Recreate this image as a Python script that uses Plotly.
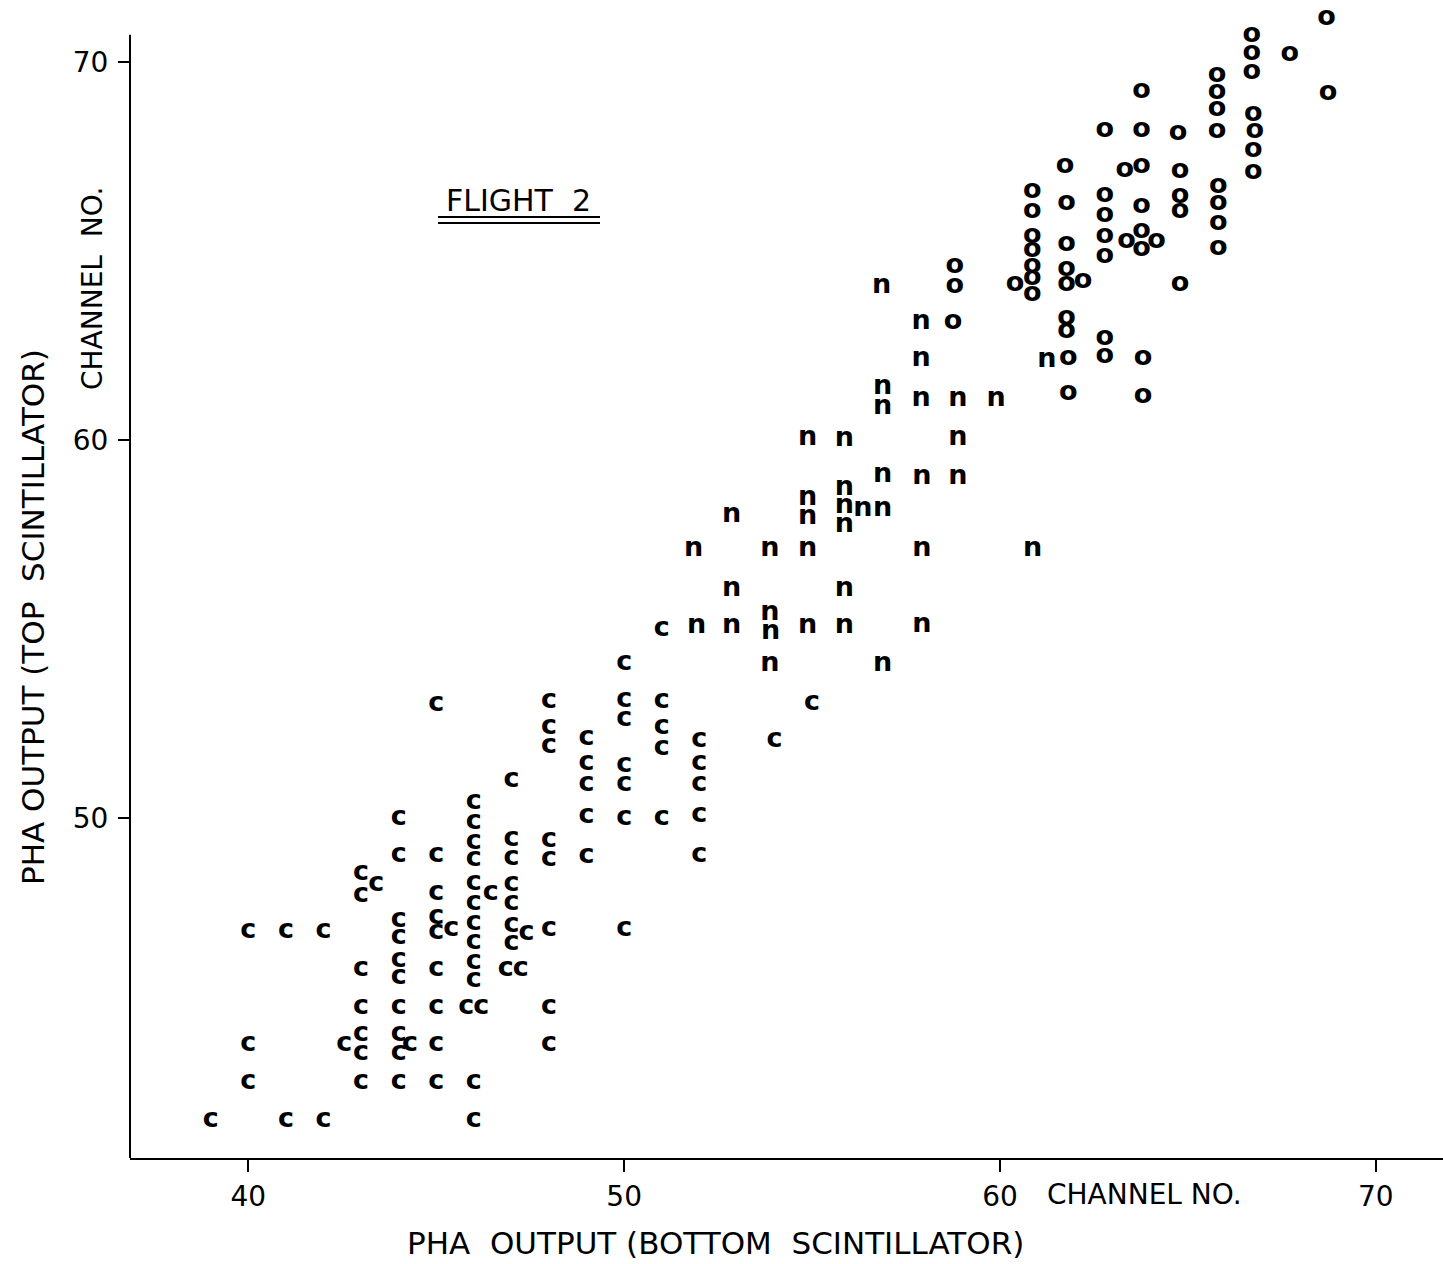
import plotly.graph_objects as go

# ---------------- data ----------------
c_x = [39, 40, 40, 40, 41, 41, 42, 42,
       43, 43, 43.4, 43, 43, 42.55, 43, 43, 43,
       44, 44, 44, 44, 44, 44, 44, 44, 44, 44.3, 44,
       45, 45, 45, 45, 45, 45.4, 45, 45, 45, 45,
       46, 46, 46, 46, 46, 46, 46, 46, 46, 46, 45.8, 46.2, 46, 46, 46.45,
       47, 47, 47, 47, 47, 47, 47, 47.4, 46.85, 47.25,
       48, 48, 48, 48, 48, 48, 48, 48,
       49, 49, 49, 49, 49,
       50, 50, 50, 50, 50, 50, 50,
       51, 51, 51, 51, 51,
       52, 52, 52, 52, 52,
       54, 55]
c_y = [42, 47, 44, 43, 47, 42, 47, 42,
       48.54, 47.96, 48.23, 46, 45, 44, 44.27, 43.77, 43,
       50, 49, 47.3, 46.85, 46.24, 45.77, 45, 44.27, 43.77, 44, 43,
       53, 49, 48, 47.38, 46.96, 47.04, 46, 45, 44, 43,
       50.42, 49.89, 49.34, 48.89, 48.28, 47.75, 47.22, 46.72, 46.19, 45.71, 45, 45, 43, 42, 48.0,
       51, 49.42, 48.94, 48.23, 47.75, 47.17, 46.69, 46.95, 46, 46,
       53.07, 52.4, 51.9, 49.4, 48.9, 47.04, 45, 44,
       52.1, 51.45, 50.9, 50.03, 48.97,
       54.1, 53.1, 52.6, 51.4, 50.9, 50, 47.04,
       55, 53.07, 52.4, 51.85, 50,
       52.06, 51.45, 50.9, 50.07, 49,
       52.06, 53.04]

n_x = [56.85, 57.9, 57.9, 61.25, 56.88, 56.88, 57.9, 58.88, 59.9,
       54.88, 55.86, 58.88, 56.88, 57.92, 58.88,
       54.88, 54.88, 55.86, 55.86, 55.86, 56.35, 56.88, 52.86,
       51.85, 53.88, 54.88, 57.92, 60.87,
       52.86, 55.86,
       51.93, 52.86, 53.88, 53.9, 54.88, 55.86, 57.92,
       53.88, 56.88]
n_y = [64.05, 63.1, 62.12, 62.1, 61.4, 60.87, 61.06, 61.06, 61.06,
       60.05, 60.0, 60.05, 59.07, 59.0, 59.0,
       58.46, 57.94, 58.73, 58.23, 57.75, 58.15, 58.15, 58.0,
       57.1, 57.1, 57.1, 57.1, 57.1,
       56.05, 56.05,
       55.06, 55.06, 55.4, 54.9, 55.06, 55.06, 55.1,
       54.05, 54.05]

o_x = [66.7, 66.7, 66.7, 67.71, 68.69, 68.73,
       65.78, 65.78, 65.78, 65.78,
       63.77, 62.79, 63.77, 64.74,
       66.74, 66.78, 66.74, 66.74,
       61.73, 63.32, 63.77, 64.79,
       60.86, 60.86, 60.86, 60.86, 60.86, 60.86, 60.86, 60.4,
       61.77, 61.77, 61.77, 61.77, 62.21, 61.77, 61.77, 61.82, 61.82,
       62.79, 62.79, 62.79, 62.79, 62.79, 62.79,
       63.77, 63.77, 63.37, 64.17, 63.77, 63.81, 63.81,
       64.79, 64.79, 64.79,
       65.81, 65.81, 65.81, 65.81,
       58.8, 58.8, 58.75]
o_y = [70.71, 70.23, 69.72, 70.19, 71.16, 69.17,
       69.65, 69.2, 68.75, 68.15,
       69.21, 68.2, 68.2, 68.11,
       68.6, 68.16, 67.67, 67.07,
       67.23, 67.14, 67.23, 67.1,
       66.57, 66.04, 65.38, 65.0, 64.6, 64.28, 63.84, 64.1,
       66.26, 65.16, 64.5, 64.1, 64.19, 63.22, 62.87, 62.16, 61.23,
       66.48, 65.95, 65.38, 64.85, 62.69, 62.2,
       66.17, 65.52, 65.25, 65.25, 65.03, 62.16, 61.16,
       66.44, 66.04, 64.1,
       66.7, 66.26, 65.73, 65.07,
       64.58, 64.05, 63.1]

x_ticks = [40, 50, 60, 70]
y_ticks = [50, 60, 70]
x_range = [36.85, 71.79]
y_range = [41.0, 71.5]       # plotted range (room for the top-most point)
y_axis_top = 70.71           # where the drawn y-axis line stops

# ---------------- layout geometry ----------------
W, H = 1443, 1264
L, R, T, B = 130, 0, 5, 106
FONT = "DejaVu Sans"


def px2paper(px, py):
    return (px - L) / (W - L - R), (H - B - py) / (H - T - B)


fig = go.Figure()
for xs, ys, ch in [(c_x, c_y, "c"), (n_x, n_y, "n"), (o_x, o_y, "o")]:
    fig.add_trace(go.Scatter(
        x=xs, y=ys, mode="text", text=[ch] * len(xs),
        textposition="middle center",
        textfont=dict(family=FONT, size=27, color="black", weight="bold"),
        cliponaxis=False, showlegend=False, hoverinfo="skip"))

tickfont = dict(family=FONT, size=28, color="black")
fig.update_xaxes(range=x_range, tickvals=x_ticks, ticklen=12,
                 ticklabelstandoff=0, showgrid=False, zeroline=False,
                 showline=True, linecolor="black", linewidth=2,
                 ticks="outside", tickcolor="black", tickwidth=1.5,
                 tickfont=tickfont)
fig.update_yaxes(range=y_range, tickvals=y_ticks, ticklen=11,
                 ticklabelstandoff=4, showgrid=False, zeroline=False,
                 showline=False, ticks="outside", tickcolor="black",
                 tickwidth=1.5, tickfont=tickfont)

annotations = []


def add_text(txt, px, py, size, angle=0):
    ax, ay = px2paper(px, py)
    annotations.append(dict(text=txt, x=ax, y=ay, xref="paper", yref="paper",
                            xanchor="center", yanchor="middle",
                            showarrow=False, textangle=angle,
                            font=dict(family=FONT, size=size, color="black")))


add_text("FLIGHT  2", 518, 201, 30)
add_text("PHA OUTPUT (TOP  SCINTILLATOR)", 33, 617, 31, -90)
add_text("CHANNEL  NO.", 92, 288, 28, -90)
add_text("PHA  OUTPUT (BOTTOM  SCINTILLATOR)", 715, 1243, 31)
add_text("CHANNEL NO.", 1144, 1194, 28)

shapes = [dict(type="line", xref="paper", yref="y", x0=0, x1=0,
               y0=y_range[0], y1=y_axis_top,
               line=dict(color="black", width=2))]
for uy in (217, 223):
    x0, y0 = px2paper(438, uy)
    x1, _ = px2paper(600, uy)
    shapes.append(dict(type="line", xref="paper", yref="paper",
                       x0=x0, x1=x1, y0=y0, y1=y0,
                       line=dict(color="black", width=2)))

fig.update_layout(width=W, height=H,
                  margin=dict(l=L, r=R, t=T, b=B, pad=0),
                  paper_bgcolor="white", plot_bgcolor="white",
                  annotations=annotations, shapes=shapes,
                  showlegend=False)

fig.write_html("out.html")
